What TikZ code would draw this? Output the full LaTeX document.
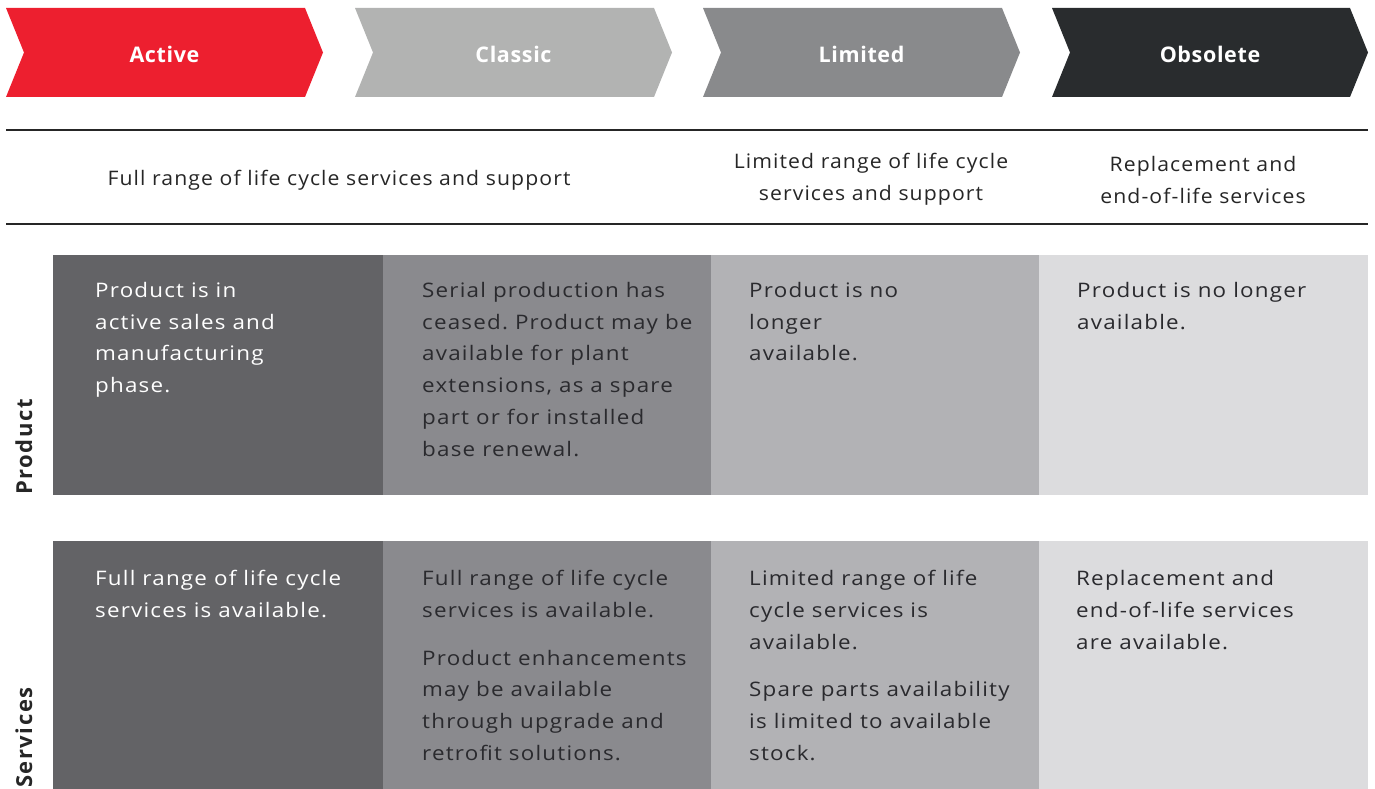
\documentclass[tikz,border=0pt]{standalone}
\usepackage{fontspec}
\setmainfont{Open Sans}
\newfontfamily\boxfont[FakeStretch=1.12,LetterSpace=6]{Open Sans}
\newfontfamily\midfont[FakeStretch=1.06,LetterSpace=5.5]{Open Sans}
\newfontfamily\chevfont[LetterSpace=3]{Open Sans}
\newfontfamily\labfont[LetterSpace=7]{Open Sans}
\frenchspacing
\definecolor{cred}{HTML}{ED1F2F}
\definecolor{cclassic}{HTML}{B2B3B2}
\definecolor{climited}{HTML}{898A8C}
\definecolor{cobs}{HTML}{292C2E}
\definecolor{boxa}{HTML}{636366}
\definecolor{boxb}{HTML}{8A8A8E}
\definecolor{boxc}{HTML}{B2B2B5}
\definecolor{boxd}{HTML}{DCDCDE}
\definecolor{ink}{HTML}{262626}
\definecolor{boxink}{HTML}{2A2A2E}
\begin{document}
\begin{tikzpicture}[x=1pt,y=-1pt,
  chevtext/.style={text=white,font=\chevfont\bfseries\fontsize{21.5}{24}\selectfont,inner sep=0},
  midtext/.style={text=ink,font=\midfont\fontsize{20}{32}\selectfont,align=center,inner sep=0},
  cell/.style={anchor=north west,inner sep=0,align=left,font=\boxfont\fontsize{20}{31.8}\selectfont\frenchspacing,execute at begin node=\strut},
  rowlabel/.style={rotate=90,anchor=base west,inner sep=0,text=ink,font=\labfont\bfseries\fontsize{22}{24}\selectfont},
  rule/.style={line width=2.2pt,draw=ink}]
\useasboundingbox (0,0) rectangle (1375,789);
% chevrons
\foreach \L/\R/\c/\n in {6/305/cred/a,355/654/cclassic/b,703/1002/climited/c,1052/1350/cobs/d}{
  \fill[\c] (\L,8) -- (\R,8) -- (\R+18,52.5) -- (\R,97) -- (\L,97) -- (\L+18,52.5) -- cycle;
}
\node[chevtext] (hA) at (164.5,54) {Active};
\node[chevtext] (hB) at (513.5,54) {Classic};
\node[chevtext] (hC) at (861.5,54) {Limited};
\node[chevtext] (hD) at (1210,54) {Obsolete};
% rules
\coordinate (r1a) at (6,130); \coordinate (r1b) at (1368,130);
\coordinate (r2a) at (6,224); \coordinate (r2b) at (1368,224);
\draw[rule] (r1a) -- (r1b);
\draw[rule] (r2a) -- (r2b);
% middle texts
\node[midtext] (mA) at (339,180) {Full range of life cycle services and support};
\node[midtext] (mC) at (871,179.5) {Limited range of life cycle\\services and support};
\node[midtext] (mD) at (1203,179.5) {Replacement and\\end-of-life services};
% boxes
\fill[boxa] (53,255) rectangle (383,495);
\fill[boxb] (383,255) rectangle (711,495);
\fill[boxc] (711,255) rectangle (1039,495);
\fill[boxd] (1039,255) rectangle (1368,495);
\fill[boxa] (53,541) rectangle (383,789);
\fill[boxb] (383,541) rectangle (711,789);
\fill[boxc] (711,541) rectangle (1039,789);
\fill[boxd] (1039,541) rectangle (1368,789);
% row labels
\node[rowlabel] (lP) at (32,495) {Product};
\node[rowlabel] (lS) at (32,788) {Services};
% product row
\node[cell,text=white] (pA) at (95,282) {Product is in\\active sales and\\manufacturing\\phase.};
\node[cell,text=boxink] (pB) at (422,282) {Serial production has\\ceased. Product may be\\available for plant\\extensions, as a spare\\part or for installed\\base renewal.};
\node[cell,text=boxink] (pC) at (749,282) {Product is no\\longer\\available.};
\node[cell,text=boxink] (pD) at (1077,282) {Product is no longer\\available.};
% services row
\node[cell,text=white] (sA) at (95,570) {Full range of life cycle\\services is available.};
\node[cell,text=boxink] (sB) at (422,570) {Full range of life cycle\\services is available.\\[16pt]Product enhancements\\may be available\\through upgrade and\\retrofit solutions.};
\node[cell,text=boxink] (sC) at (749,570) {Limited range of life\\cycle services is\\available.\\[16pt]Spare parts availability\\is limited to available\\stock.};
\node[cell,text=boxink] (sD) at (1076,570) {Replacement and\\end-of-life services\\are available.};
\end{tikzpicture}
\end{document}
